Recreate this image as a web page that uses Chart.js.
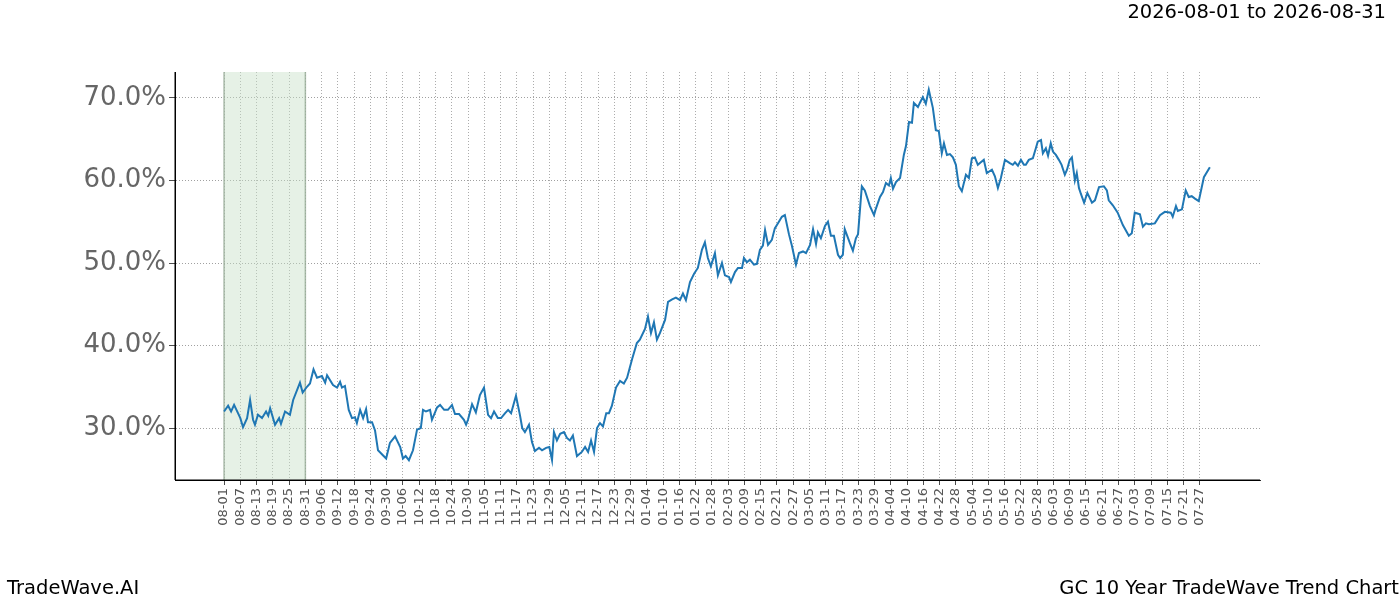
<!DOCTYPE html>
<html><head><meta charset="utf-8">
<script src="https://cdn.jsdelivr.net/npm/chart.js@4/dist/chart.umd.min.js"></script>
<style>
body{margin:0;width:1400px;height:600px;background:#fff;font-family:"DejaVu Sans",sans-serif;position:relative;overflow:hidden}
#c{position:absolute;left:0;top:0}
.t{position:absolute;font-size:19.5px;color:#000}
</style></head><body>
<canvas id="c" width="1400" height="600"></canvas>
<div class="t" style="right:14px;top:0px">2026-08-01 to 2026-08-31</div>
<div class="t" style="left:7px;top:576px">TradeWave.AI</div>
<div class="t" style="right:1px;top:576px">GC 10 Year TradeWave Trend Chart</div>
<script>
const tickLabels=["08-01","08-07","08-13","08-19","08-25","08-31","09-06","09-12","09-18","09-24","09-30","10-06","10-12","10-18","10-24","10-30","11-05","11-11","11-17","11-23","11-29","12-05","12-11","12-17","12-23","12-29","01-04","01-10","01-16","01-22","01-28","02-03","02-09","02-15","02-21","02-27","03-05","03-11","03-17","03-23","03-29","04-04","04-10","04-16","04-22","04-28","05-04","05-10","05-16","05-22","05-28","06-03","06-09","06-15","06-21","06-27","07-03","07-09","07-15","07-21","07-27"];
const days=[0,1.5,2.6,3.7,6,7,8.5,9.6,10.7,11.4,12.5,14,15.5,16.3,17,18.8,20.3,21,22.5,24.3,25.5,28,29,30.6,31.7,33,34.3,36.1,37.3,38,40.2,41.7,42.8,43.5,44.6,46,47.2,48.3,49,50.2,51.3,52.4,53.1,54.6,55.7,56.8,58.6,59.8,61.2,63.1,65,66,67,68.2,69.7,71.2,72.6,73.4,74.5,76,76.7,78.6,79.7,81.2,82.6,84.1,85.2,86.7,88.5,89.3,90,91.5,92.9,94.4,95.9,97.4,98.5,99.6,101,102.2,103.7,104.8,105.9,107.7,109.2,110,111,112.5,113.6,114.7,116.2,117.3,118.8,120,121,121.7,122.8,124,125.4,126.5,127.6,128.7,130.2,132,133.2,134.3,135.4,136.5,137.6,138.7,139.8,141,142,143.1,144.6,146.1,147.5,148.7,150.5,152.3,153.4,155.3,156.4,157.5,158.6,159.7,160.8,162.7,163.8,165.3,166.7,168.2,169.3,170.4,171.9,173.4,174.8,176.3,177.4,178.5,179.6,181.1,182.2,183.7,184.8,186.3,187,188.5,189.6,191.1,191.8,192.9,194,195.5,196.6,197.7,198.8,199.6,200.7,202.1,203.2,204.7,205.8,206.9,208.4,209.5,211,212.1,213.6,214.7,216.2,217.3,218.4,219.1,220.2,221.7,222.8,223.9,225,226.5,227.3,228.3,229,230.9,232,233.1,233.9,235.3,236.4,238.3,239.8,240.5,242,243.1,244.2,245.3,246,246.8,247.9,249.4,250.8,251.6,252.7,253.8,254.5,256,256.7,257.8,258.9,260,261.5,262.6,263.7,264.8,265.6,266.7,267.8,268.9,270,271.1,272.2,273.7,274.8,275.9,277,278.1,279.2,280.3,281.4,283.3,284.4,285.5,286.6,288.1,289.9,291,291.8,292.9,294,295.1,295.8,296.9,298.4,299.5,300.2,301.4,302.1,303.2,304,305,305.8,306.9,308,309,310.2,311,312,312.8,313.9,314.6,315.4,316.1,317.3,318.5,320.2,321.3,322.8,324.6,325.7,326.4,327.9,329.7,331.6,333.8,334.9,336,337.9,339,340.1,341.2,343.4,345.3,347.1,349.3,350,351.2,351.9,353.4,354.8,355.9,357,358.2,359.6,361.5,363.7];
const values=[32.0,32.7,32.0,32.8,31.2,30.1,31.2,33.4,31,30.4,31.6,31.2,32,31.5,32.4,30.4,31.2,30.5,32,31.6,33.4,35.5,34.3,35,35.4,37.1,36.1,36.3,35.5,36.4,35.2,34.9,35.6,34.9,35.1,32.2,31.2,31.3,30.6,32.2,31.2,32.3,30.7,30.7,29.7,27.3,26.7,26.3,28.2,29,27.7,26.3,26.6,26.1,27.3,29.8,30,32.2,32,32.2,31,32.5,32.8,32.2,32.2,32.8,31.7,31.7,31,30.4,31,32.9,31.9,34,34.9,31.6,31.2,32,31.2,31.2,31.8,32.2,31.8,33.9,31.5,30,29.5,30.4,28.3,27.2,27.6,27.3,27.6,27.7,26.1,29.5,28.5,29.3,29.5,28.8,28.5,29.1,26.6,27.1,27.7,27.1,28.5,27.1,30,30.6,30.2,31.8,31.8,32.7,34.9,35.7,35.4,36.1,38.3,40.3,40.7,42,43.5,41.5,42.8,40.7,41.5,43.1,45.3,45.6,45.8,45.5,46.3,45.5,47.7,48.7,49.4,51.6,52.5,50.6,49.6,51.2,48.5,50,48.5,48.3,47.7,48.9,49.4,49.4,50.6,50.1,50.4,49.8,49.9,51.6,52.1,54,52.2,52.8,54.2,55,55.6,55.8,53.5,52.1,49.8,51.2,51.4,51.2,52.2,54.1,52.3,53.7,53,54.5,55,53.3,53.3,51,50.6,51,54.1,52.4,51.5,53,53.5,59.3,58.8,56.9,55.8,56.6,58,58.6,59.7,59.4,60.3,59,59.8,60.3,63.1,64.2,67.1,67,69.4,68.9,69.4,70.1,69.3,71,68.8,66.1,66,63.3,64.5,63.1,63.2,62.8,61.9,59.3,58.7,60.7,60.3,62.7,62.8,61.9,62.2,62.5,60.9,61.3,60.5,59.1,60.3,62.5,62.1,61.9,62.2,61.8,62.5,61.9,61.9,62.5,62.7,63.9,64.7,64.9,63.3,63.9,63,64.5,63.5,63.1,62.5,61.9,60.7,61.3,62.5,62.8,60,60.9,59.1,58.4,57.3,58.5,57.3,57.6,59.2,59.3,58.8,57.6,57.0,56.1,54.6,53.3,53.6,56.1,55.9,54.4,54.8,54.7,54.8,55.8,56.2,56.1,55.6,56.9,56.3,56.5,58.8,58,58.1,57.8,57.5,60.4,61.6];
const yTicks=[30,40,50,60,70];
const shadeStart=0, shadeEnd=30;
const pts=days.map((d,i)=>({x:d,y:values[i]}));
const shade={id:'shade',beforeDatasetsDraw(ch){const {ctx,chartArea:a,scales:{x}}=ch;const l=x.getPixelForValue(shadeStart),r=x.getPixelForValue(shadeEnd);ctx.save();ctx.fillStyle='rgba(200,225,200,0.45)';ctx.fillRect(l,a.top,r-l,a.bottom-a.top);ctx.strokeStyle='rgba(150,170,150,0.8)';ctx.lineWidth=1.5;ctx.beginPath();ctx.moveTo(l,a.top);ctx.lineTo(l,a.bottom);ctx.moveTo(r,a.top);ctx.lineTo(r,a.bottom);ctx.stroke();ctx.restore();}};
new Chart(document.getElementById('c'),{type:'line',data:{datasets:[{data:pts,borderColor:'#1f77b4',borderWidth:2,pointRadius:0,tension:0}]},
options:{responsive:false,animation:false,layout:{padding:{top:72,right:140,left:0,bottom:0}},plugins:{legend:{display:false},tooltip:{enabled:false}},
scales:{x:{type:'linear',min:-18.1,max:382.2,afterFit(s){s.height=120;},afterBuildTicks(s){s.ticks=tickLabels.map((_,i)=>({value:i*6}));},
ticks:{autoSkip:false,maxRotation:90,minRotation:90,color:'#555',font:{size:13,family:'DejaVu Sans'},callback:v=>tickLabels[Math.round(v/6)]},
grid:{color:'#888',lineWidth:0.7,tickLength:5,tickColor:'#000'},border:{color:'#000',dash:[1,2],display:true}},
y:{min:23.7,max:73.15,afterFit(s){s.width=175;},afterBuildTicks(s){s.ticks=yTicks.map(v=>({value:v}));},
ticks:{color:'#666',font:{size:26,family:'DejaVu Sans'},callback:v=>v.toFixed(1)+'%'},
grid:{color:'#777',lineWidth:0.7,tickLength:6,tickColor:'#000'},border:{color:'#000',dash:[1,2]}}}},
plugins:[shade,{id:'axes',afterDraw(ch){const {ctx,chartArea:a}=ch;ctx.save();ctx.strokeStyle='#000';ctx.lineWidth=1;ctx.setLineDash([]);ctx.beginPath();ctx.moveTo(a.left,a.top);ctx.lineTo(a.left,a.bottom);ctx.lineTo(a.right,a.bottom);ctx.stroke();ctx.restore();}}]});
</script></body></html>
